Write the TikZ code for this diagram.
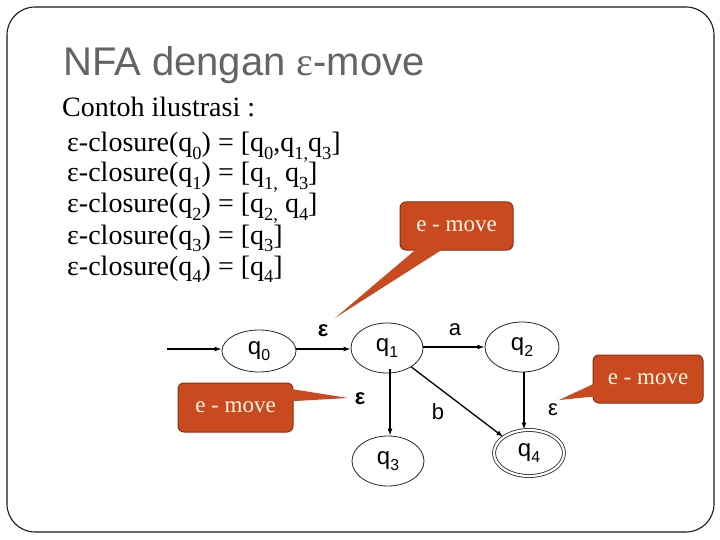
\documentclass[tikz,border=0pt]{standalone}
\usepackage{fontspec}
\setmainfont{Liberation Serif}
\setsansfont{Liberation Sans}
\usetikzlibrary{arrows.meta,shapes.geometric,backgrounds}
\definecolor{calloutfill}{RGB}{200,74,30}
\definecolor{calloutdraw}{RGB}{140,45,15}
\definecolor{titlegray}{RGB}{100,100,100}
\definecolor{txtcream}{RGB}{255,246,232}
\newcommand\lowsub[1]{\raisebox{-0.28em}{\fontsize{0.66em}{0.66em}\selectfont #1}}
\begin{document}
\begin{tikzpicture}[x=1pt,y=-1pt,
  body/.style={anchor=base west,inner sep=0pt,font=\rmfamily\fontsize{28}{28}\selectfont},
  state/.style={draw=black!85,line width=0.8pt,ellipse,minimum width=74pt,minimum height=50pt,inner sep=0pt,font=\sffamily\fontsize{24}{24}\selectfont},
  accept/.style={state,double=white,double distance=2.2pt,minimum width=70pt,minimum height=46pt},
  edge/.style={line width=1.3pt,-{Latex[length=7pt,width=5pt]}},
  elab/.style={inner sep=0pt,font=\sffamily\fontsize{22}{22}\selectfont},
  callout/.style={fill=calloutfill,draw=calloutdraw,line width=1pt,rounded corners=6pt,text=txtcream,font=\rmfamily\fontsize{23}{23}\selectfont,inner sep=0pt},
  pointer/.style={fill=calloutfill,draw=calloutdraw,line width=0.8pt,line join=miter}
]
\useasboundingbox (0,0) rectangle (720,540);
\fill[white] (0,0) rectangle (720,540);
\draw[line width=1.1pt,black!90,rounded corners=28pt] (7,7) rectangle (714,532);

\node[anchor=base west,inner sep=0pt,text=titlegray,font=\sffamily\fontsize{40}{40}\selectfont] (title) at (63,76) {NFA dengan {\rmfamily ε}-move};

\node[body] (l1) at (62,117) {Contoh ilustrasi :};
\node[body] (l2) at (67,152) {ε-closure(q\lowsub{0}) = [q\lowsub{0},q\lowsub{1,}q\lowsub{3}]};
\node[body] (l3) at (67,182) {ε-closure(q\lowsub{1}) = [q\lowsub{1,} q\lowsub{3}]};
\node[body] (l4) at (67,213) {ε-closure(q\lowsub{2}) = [q\lowsub{2,} q\lowsub{4}]};
\node[body] (l5) at (67,244) {ε-closure(q\lowsub{3}) = [q\lowsub{3}]};
\node[body] (l6) at (67,275) {ε-closure(q\lowsub{4}) = [q\lowsub{4}]};

\node[state,minimum height=42pt] (q0) at (259,351) {q\lowsub{0}};
\node[state,minimum width=72pt] (q1) at (387,348) {q\lowsub{1}};
\node[state] (q2) at (522,347) {q\lowsub{2}};
\node[state,minimum width=72pt] (q3) at (388,461) {q\lowsub{3}};
\node[accept] (q4) at (529,453) {q\lowsub{4}};
\coordinate (start) at (167,349);

\draw[edge] (start) -- (q0.west |- start);
\draw[edge] (q0.east |- start) -- (q1.west |- start);
\draw[edge] (q1.east |- q2) -- (q2.west);
\draw[edge] ([xshift=3pt,yshift=4pt]q1.south) -- ([xshift=2pt]q3.north);
\draw[edge] (q1.-38) -- (q4.148);
\draw[edge] ([xshift=2pt]q2.south) -- ([xshift=-5pt]q4.north);

\node[elab,font=\sffamily\bfseries\fontsize{22}{22}\selectfont] (e01) at (323,331) {ε};
\node[elab] (a12) at (455,330) {a};
\node[elab,font=\sffamily\bfseries\fontsize{22}{22}\selectfont] (e13) at (360,399) {ε};
\node[elab] (b14) at (438,412) {b};
\node[elab] (e24) at (553,410) {ε};

% callouts
\node[callout,minimum width=113pt,minimum height=48pt] (c1) at (456.5,226) {e - move};
\node[callout,minimum width=115pt,minimum height=49pt] (c2) at (235.5,407.5) {e - move};
\node[callout,minimum width=110pt,minimum height=48pt] (c3) at (648,379) {e - move};
\coordinate (t1) at (335,318);
\coordinate (t2) at (348,398);
\coordinate (t3) at (559,400);
\begin{scope}[on background layer]
\draw[pointer] (418,249) -- (t1) -- (447,249) -- cycle;
\draw[pointer] (292,388) -- (t2) -- (292,402) -- cycle;
\draw[pointer] (594,382) -- (t3) -- (594,397) -- cycle;
\end{scope}
\fill[calloutfill] (418.8,247) -- (t1) -- (446.2,247) -- cycle;
\fill[calloutfill] (290,388.8) -- (t2) -- (290,401.3) -- cycle;
\fill[calloutfill] (596,382.8) -- (t3) -- (596,396.3) -- cycle;
\end{tikzpicture}
\end{document}
